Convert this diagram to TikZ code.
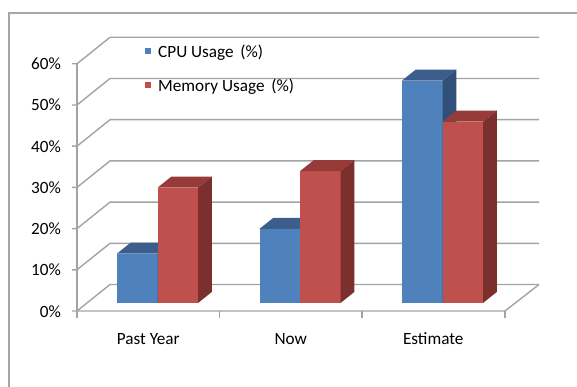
\documentclass[tikz,border=0pt]{standalone}
\usepackage{fontspec}
\setmainfont{Carlito}
\definecolor{framegray}{HTML}{A6A6A6}
\definecolor{gridgray}{HTML}{A3A3A3}
\definecolor{cpufront}{HTML}{4F81BD}
\definecolor{cputop}{HTML}{3B5E8C}
\definecolor{cpuside}{HTML}{30507A}
\definecolor{memfront}{HTML}{C0504D}
\definecolor{memtop}{HTML}{963B38}
\definecolor{memside}{HTML}{7C302E}

% One 3-D column: #1 left x of front face, #2 value in %, #3 colour prefix
\newcommand\chartbar[3]{%
  \pgfmathsetmacro\bartop{303-4.12*#2}%
  \fill[#3front] (#1,303) rectangle (#1+40.5,\bartop);
  \fill[#3top] (#1,\bartop) -- (#1+40.5,\bartop) -- (#1+54.3,\bartop-11)
    -- (#1+13.8,\bartop-11) -- cycle;
  \fill[#3side] (#1+40.5,\bartop) -- (#1+54.3,\bartop-11) -- (#1+54.3,292)
    -- (#1+40.5,303) -- cycle;
}

\begin{document}
\begin{tikzpicture}[x=1pt,y=-1pt,
  grid/.style={draw=gridgray,line width=1.4pt},
  frame/.style={draw=framegray,line width=1.6pt},
  lab/.style={font=\fontsize{17.2}{19}\selectfont,inner sep=0pt},
  keybox/.style={minimum size=6.5pt,inner sep=0pt},
]
\useasboundingbox (0,0) rectangle (577,387);

% chart frame
\draw[frame] (9,387) -- (9,13) -- (577,13);

% side wall, back wall and value labels
\foreach \v in {0,10,...,60} {
  \pgfmathsetmacro\yf{311-4.12*\v}
  \pgfmathsetmacro\yb{284.5-4.12*\v}
  \draw[grid] (72,\yf) -- (77,\yf) -- (110,\yb) -- (539,\yb);
  \node[lab,anchor=base east] (ylab\v) at (61,\yf+6) {\v\%};
}

% value axis, floor and category ticks
\draw[grid] (77,63.8) -- (77,318);
\draw[grid] (77,311) -- (505,311) -- (539,284.5);
\foreach \x in {219.5,362,505} \draw[grid] (\x,311) -- (\x,318);

% columns
\chartbar{117}{12}{cpu}
\chartbar{157.5}{28}{mem}
\chartbar{259.5}{18}{cpu}
\chartbar{300}{32}{mem}
\chartbar{402}{54}{cpu}
\chartbar{442.5}{44}{mem}

% category labels
\node[lab,anchor=base] (cat1) at (148.25,344.3) {Past Year};
\node[lab,anchor=base] (cat2) at (290.75,344.3) {Now};
\node[lab,anchor=base] (cat3) at (433.25,344.3) {Estimate};

% legend
\node[keybox,fill=cpufront] (keycpu) at (148,51) {};
\node[lab,anchor=base west] (labcpu) at (158,57.5) {CPU Usage\, (\%)};
\node[keybox,fill=memfront] (keymem) at (148,85) {};
\node[lab,anchor=base west] (labmem) at (158,91.5) {Memory Usage\, (\%)};
\end{tikzpicture}
\end{document}
